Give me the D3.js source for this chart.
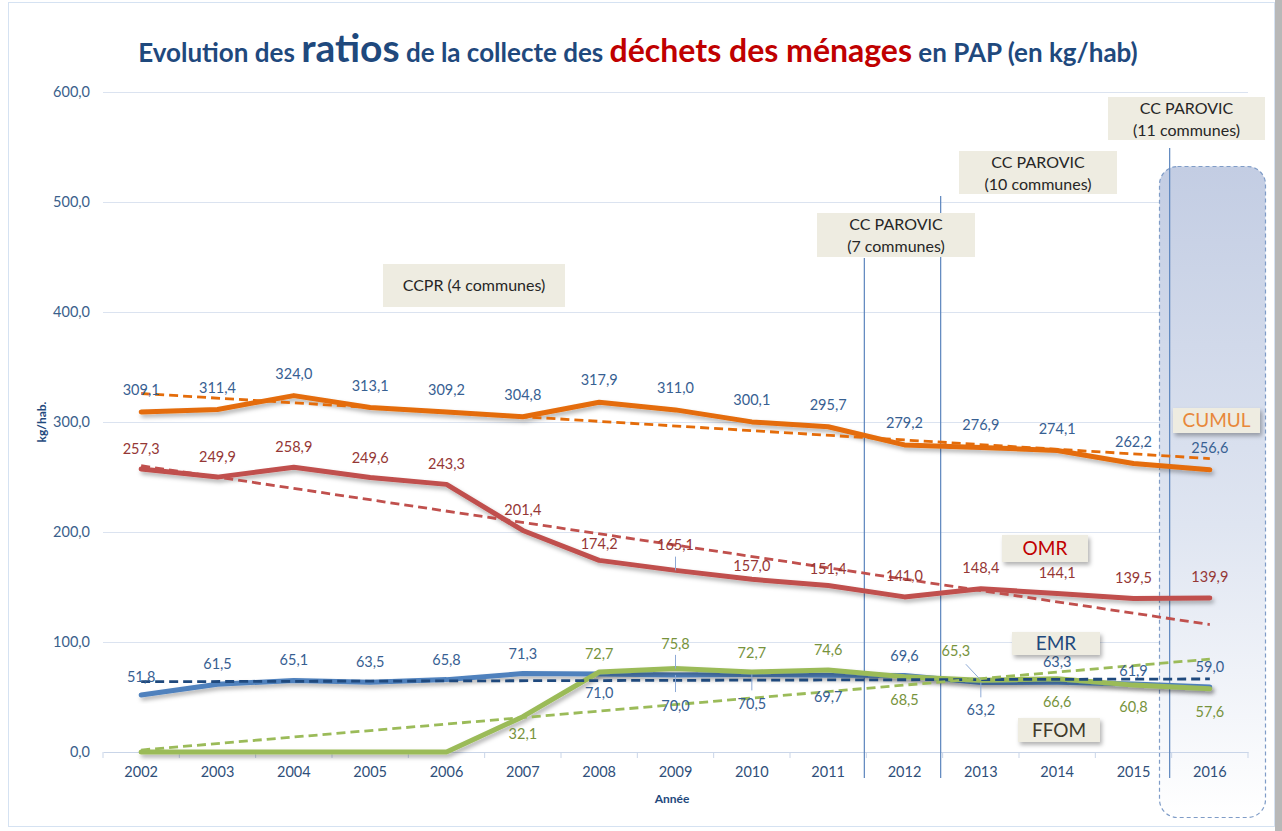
<!DOCTYPE html>
<head>
<meta charset="utf-8">
<script src="https://cdn.jsdelivr.net/npm/d3@7"></script>
<style>
body { margin: 0; background: #fff; }
svg { display: block; font-family: Lato, "Open Sans", sans-serif; }
</style>
</head>
<svg width="1282" height="831"></svg>

<script>
// data (kg/hab)
var years = [2002, 2003, 2004, 2005, 2006, 2007, 2008, 2009, 2010, 2011, 2012, 2013, 2014, 2015, 2016];
var cumul = [309.1, 311.4, 324.0, 313.1, 309.2, 304.8, 317.9, 311.0, 300.1, 295.7, 279.2, 276.9, 274.1, 262.2, 256.6];
var omr   = [257.3, 249.9, 258.9, 249.6, 243.3, 201.4, 174.2, 165.1, 157.0, 151.4, 141.0, 148.4, 144.1, 139.5, 139.9];
var emr   = [51.8, 61.5, 65.1, 63.5, 65.8, 71.3, 71.0, 70.0, 70.5, 69.7, 69.6, 63.2, 63.3, 61.9, 59.0];
var ffom  = [0, 0, 0, 0, 0, 32.1, 72.7, 75.8, 72.7, 74.6, 68.5, 65.3, 66.6, 60.8, 57.6];
var yTicks = [0, 100, 200, 300, 400, 500, 600];

// label placement (px offsets from the point), kept apart from the data
var cumulDy = [-22, -22, -22, -22, -22, -22, -22, -22, -22, -22, -22, -22, -22, -22, -22];
var omrDy   = [-20, -20, -20, -20, -20, -21, -16, -25, -13, -17, -21, -21, -21, -21, -21];
var emrDy   = [-18, -20, -20, -20, -20, -20, 19, 31, 29, 22, -20, 27, -20, -13, -20];
var ffomDy  = [0, 0, 0, 0, 0, 17, -18, -25, -19, -20, 23, -29, 23, 22, 23];
var ffomDx  = [0, 0, 0, 0, 0, 0, 0, 0, 0, 0, 0, -25, 0, 0, 0];

var series = [
  {name: "EMR",   values: emr,   color: "#4f81bd", trend: "#1f497d", text: "#376092", dy: emrDy},
  {name: "FFOM",  values: ffom,  color: "#9bbb59", trend: "#9bbb59", text: "#77933c", dy: ffomDy, dx: ffomDx, skipZero: true},
  {name: "OMR",   values: omr,   color: "#c0504d", trend: "#c0504d", text: "#953735", dy: omrDy},
  {name: "CUMUL", values: cumul, color: "#e46c0a", trend: "#e46c0a", text: "#376092", dy: cumulDy}
];

var svg = d3.select("svg"),
    pLeft = 103, pRight = 1248, pTop = 92, pBottom = 752;

var fr = d3.formatLocale({decimal: ",", thousands: " ", grouping: [3], currency: ["", " €"]}).format(".1f");

var x = d3.scaleBand().domain(years).range([pLeft, pRight]).padding(0);
var y = d3.scaleLinear().domain([0, 600]).range([pBottom, pTop]);
var cx = function(i) { return x(years[i]) + x.bandwidth() / 2; };

var defs = svg.append("defs");
var sh = defs.append("filter").attr("id", "shadow").attr("x", "-10%").attr("y", "-20%").attr("width", "130%").attr("height", "160%");
sh.append("feDropShadow").attr("dx", 2).attr("dy", 3).attr("stdDeviation", 2).attr("flood-color", "#000").attr("flood-opacity", 0.3);
var grad = defs.append("linearGradient").attr("id", "hl").attr("x1", 0).attr("y1", 0).attr("x2", 0).attr("y2", 1);
grad.append("stop").attr("offset", "0%").attr("stop-color", "#c3cde3");
grad.append("stop").attr("offset", "55%").attr("stop-color", "#dfe5f1");
grad.append("stop").attr("offset", "100%").attr("stop-color", "#ffffff");

// frame
svg.append("rect").attr("x", 8.5).attr("y", 2.5).attr("width", 1266).attr("height", 824)
  .attr("fill", "#fff").attr("stroke", "#d5e2f2");
svg.append("rect").attr("x", 1275).attr("y", 0).attr("width", 7).attr("height", 831).attr("fill", "#b8b8b8");

// title
var title = svg.append("text").attr("x", 638).attr("y", 62).attr("text-anchor", "middle")
  .attr("font-weight", "bold").attr("fill", "#1f497d").attr("font-size", 26);
title.append("tspan").text("Evolution des ");
title.append("tspan").attr("font-size", 39).text("ratios");
title.append("tspan").text(" de la collecte des ");
title.append("tspan").attr("font-size", 32).attr("fill", "#c00000").text("déchets des ménages");
title.append("tspan").text(" en PAP (en kg/hab)");

// gridlines
svg.append("g").selectAll("line").data(yTicks.slice(1)).enter().append("line")
  .attr("x1", pLeft).attr("x2", pRight)
  .attr("y1", function(d) { return y(d) + 0.5; }).attr("y2", function(d) { return y(d) + 0.5; })
  .attr("stroke", "#dbe3f0").attr("stroke-width", 1);

// highlighted last year
svg.append("rect").attr("x", 1159.5).attr("y", 166.5).attr("width", 106).attr("height", 651).attr("rx", 18)
  .attr("fill", "url(#hl)").attr("stroke", "#7f9cc7").attr("stroke-dasharray", "4,3").attr("stroke-width", 1.2);

// x axis
var xAxis = svg.append("g").attr("transform", "translate(0," + pBottom + ")")
  .call(d3.axisBottom(x).tickSize(0).tickPadding(15));
xAxis.select(".domain").attr("stroke", "#c9d5e8");
xAxis.selectAll("text").attr("font-size", 14.5).attr("fill", "#2f4f7a").attr("font-family", "Lato, sans-serif");
svg.append("g").selectAll("line").data(years.concat(["end"])).enter().append("line")
  .attr("x1", function(d, i) { return pLeft + i * x.bandwidth(); })
  .attr("x2", function(d, i) { return pLeft + i * x.bandwidth(); })
  .attr("y1", pBottom).attr("y2", pBottom + 6).attr("stroke", "#c9d5e8");

// y axis
var yAxis = svg.append("g").attr("transform", "translate(" + pLeft + ",0)")
  .call(d3.axisLeft(y).tickValues(yTicks).tickSize(0).tickPadding(13).tickFormat(fr));
yAxis.select(".domain").remove();
yAxis.selectAll("text").attr("font-size", 14.5).attr("fill", "#3a5f8c").attr("font-family", "Lato, sans-serif");

svg.append("text").attr("transform", "translate(46," + y(300) + ") rotate(-90)").attr("text-anchor", "middle")
  .attr("font-size", 12).attr("font-weight", "bold").attr("fill", "#1f497d").text("kg/hab.");
svg.append("text").attr("x", 672).attr("y", 803).attr("text-anchor", "middle")
  .attr("font-size", 12).attr("font-weight", "bold").attr("fill", "#1f497d").text("Année");

// separators between groupings
var seps = [{year: 2012, top: 258}, {year: 2013, top: 196}, {year: 2016, top: 148}];
svg.append("g").selectAll("line").data(seps).enter().append("line")
  .attr("x1", function(d) { return x(d.year) - 2; }).attr("x2", function(d) { return x(d.year) - 2; })
  .attr("y1", function(d) { return d.top; }).attr("y2", 778)
  .attr("stroke", "#5b84bd").attr("stroke-width", 1.2);

// linear trend lines
function trend(v) {
  var n = v.length, mx = (n - 1) / 2, my = d3.mean(v), sxy = 0, sxx = 0;
  v.forEach(function(d, i) { sxy += (i - mx) * (d - my); sxx += (i - mx) * (i - mx); });
  var b = sxy / sxx, a = my - b * mx;
  return [[0, a], [n - 1, a + b * (n - 1)]];
}

var line = d3.line().x(function(d, i) { return cx(i); }).y(function(d) { return y(d); });

var lines = svg.append("g");
series.forEach(function(s) {
  lines.append("path").datum(s.values).attr("d", line).attr("fill", "none")
    .attr("stroke", s.color).attr("stroke-width", 5).attr("stroke-linejoin", "round").attr("stroke-linecap", "round")
    .attr("filter", "url(#shadow)");
});
series.forEach(function(s) {
  var t = trend(s.values);
  lines.append("line").attr("x1", cx(t[0][0])).attr("y1", y(t[0][1])).attr("x2", cx(t[1][0])).attr("y2", y(t[1][1]))
    .attr("stroke", s.trend).attr("stroke-width", 2.8).attr("stroke-dasharray", "9,5");
});

// data labels
series.forEach(function(s) {
  var g = svg.append("g").attr("font-size", 14.5).attr("fill", s.text).attr("text-anchor", "middle");
  s.values.forEach(function(v, i) {
    if (s.skipZero && v === 0) return;
    var dx = s.dx ? s.dx[i] : 0, dy = s.dy[i];
    if (Math.abs(dy) > 24 || dx !== 0) {
      svg.append("line").attr("x1", cx(i) + dx * 0.6).attr("y1", y(v) + dy * 0.55)
        .attr("x2", cx(i)).attr("y2", y(v)).attr("stroke", "#8eaad6").attr("stroke-width", 1);
    }
    g.append("text").attr("x", cx(i) + dx).attr("y", y(v) + dy).attr("dy", "0.35em").text(fr(v));
  });
});

// annotation boxes
var notes = [
  {lines: ["CCPR (4 communes)"], x: 383, y: 264, w: 182, h: 43},
  {lines: ["CC PAROVIC", "(7 communes)"], x: 817, y: 213, w: 158, h: 44},
  {lines: ["CC PAROVIC", "(10 communes)"], x: 959, y: 151, w: 158, h: 43},
  {lines: ["CC PAROVIC", "(11 communes)"], x: 1108, y: 97, w: 157, h: 43}
];
notes.forEach(function(n) {
  var g = svg.append("g");
  g.append("rect").attr("x", n.x).attr("y", n.y).attr("width", n.w).attr("height", n.h).attr("fill", "#eeece1");
  n.lines.forEach(function(t, i) {
    var off = n.lines.length === 1 ? 0 : (i === 0 ? -10.5 : 11.5);
    g.append("text").attr("x", n.x + n.w / 2).attr("y", n.y + n.h / 2 + off).attr("dy", "0.35em")
      .attr("text-anchor", "middle").attr("font-size", 16).attr("fill", "#262626").text(t);
  });
});

var tags = [
  {text: "CUMUL", x: 1173, y: 408, w: 87, h: 25, color: "#e8883a"},
  {text: "OMR", x: 1002, y: 535, w: 86, h: 27, color: "#c00000"},
  {text: "EMR", x: 1012, y: 632, w: 88, h: 23, color: "#1f497d"},
  {text: "FFOM", x: 1018, y: 718, w: 82, h: 24, color: "#403a2a"}
];
tags.forEach(function(t) {
  var g = svg.append("g");
  g.append("rect").attr("x", t.x).attr("y", t.y).attr("width", t.w).attr("height", t.h).attr("fill", "#eeece1")
    .attr("filter", "url(#shadow)");
  g.append("text").attr("x", t.x + t.w / 2).attr("y", t.y + t.h / 2).attr("dy", "0.36em").attr("text-anchor", "middle")
    .attr("font-size", 19).attr("fill", t.color).text(t.text);
});
</script>
